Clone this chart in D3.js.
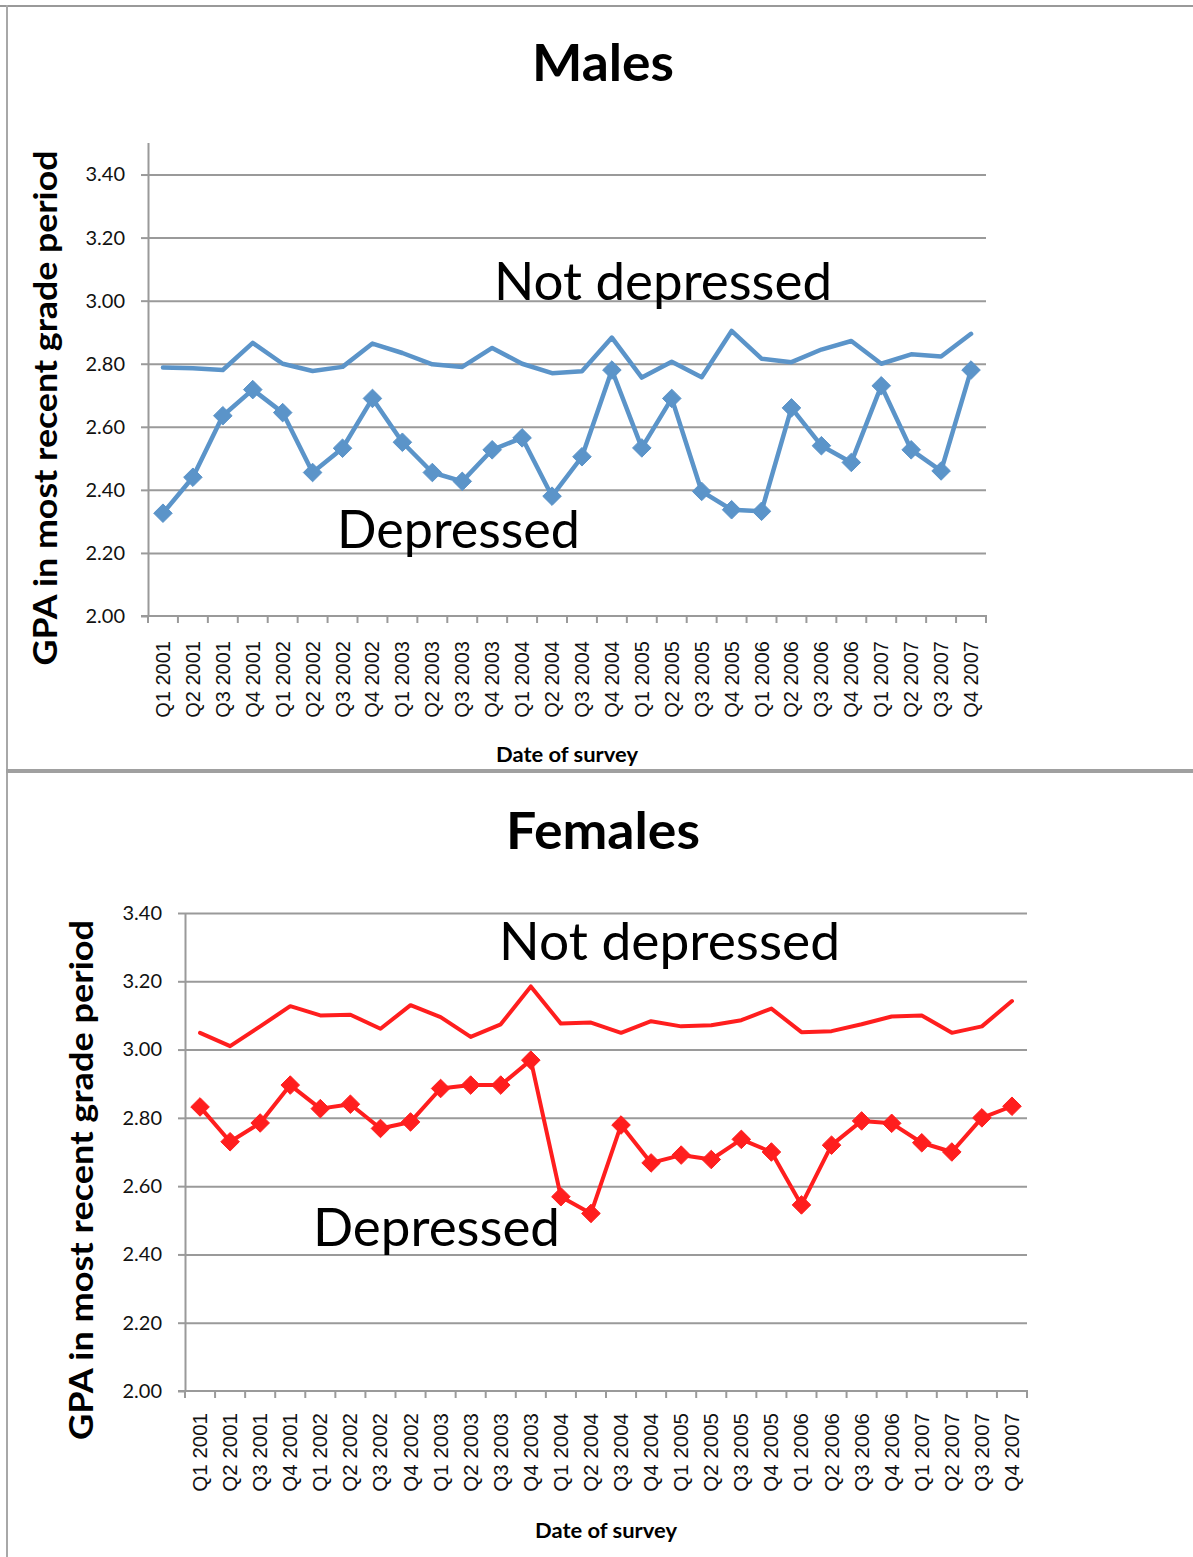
<!DOCTYPE html>
<html>
<head>
<meta charset="utf-8">
<script src="https://cdn.jsdelivr.net/npm/d3@7"></script>
<style>
  html, body { margin: 0; padding: 0; background: #fff; }
  svg { display: block; }
</style>
</head>
<body>
<svg id="chart" width="1193" height="1557"></svg>
<script>
// ---------- DATA ----------
const categories = [
  "Q1 2001","Q2 2001","Q3 2001","Q4 2001",
  "Q1 2002","Q2 2002","Q3 2002","Q4 2002",
  "Q1 2003","Q2 2003","Q3 2003","Q4 2003",
  "Q1 2004","Q2 2004","Q3 2004","Q4 2004",
  "Q1 2005","Q2 2005","Q3 2005","Q4 2005",
  "Q1 2006","Q2 2006","Q3 2006","Q4 2006",
  "Q1 2007","Q2 2007","Q3 2007","Q4 2007"
];
const yTickValues = [2.0, 2.2, 2.4, 2.6, 2.8, 3.0, 3.2, 3.4];

const malesNotDepressed = [
  2.788, 2.786, 2.780, 2.866, 2.800, 2.777, 2.790, 2.864,
  2.834, 2.798, 2.790, 2.850, 2.800, 2.770, 2.776, 2.883,
  2.756, 2.806, 2.757, 2.904, 2.816, 2.805, 2.845, 2.872,
  2.800, 2.830, 2.823, 2.895
];
const malesDepressed = [
  2.326, 2.440, 2.635, 2.718, 2.645, 2.455, 2.532, 2.690,
  2.551, 2.455, 2.427, 2.527, 2.565, 2.380, 2.505, 2.780,
  2.533, 2.690, 2.395, 2.337, 2.332, 2.660, 2.540, 2.487,
  2.730, 2.527, 2.460, 2.780
];
const femalesNotDepressed = [
  3.049, 3.010, 3.068, 3.127, 3.100, 3.102, 3.061, 3.130,
  3.095, 3.037, 3.074, 3.185, 3.076, 3.079, 3.049, 3.083,
  3.068, 3.071, 3.086, 3.120, 3.051, 3.054, 3.074, 3.097,
  3.100, 3.049, 3.068, 3.142
];
const femalesDepressed = [
  2.832, 2.730, 2.785, 2.896, 2.827, 2.840, 2.769, 2.788,
  2.886, 2.896, 2.896, 2.969, 2.569, 2.520, 2.779, 2.668,
  2.691, 2.678, 2.737, 2.700, 2.545, 2.720, 2.791, 2.784,
  2.727, 2.700, 2.800, 2.834
];

// ---------- DRAWING ----------
const svg = d3.select("#chart");
const GRID = "#9a9a9a";
const CALIBRI = "Lato, 'Open Sans', sans-serif";
const ARIAL = "'Liberation Sans', Arial, sans-serif";

// panel frames
svg.append("rect").attr("x", 0).attr("y", 5).attr("width", 1193).attr("height", 2).attr("fill", "#999");
svg.append("rect").attr("x", 6).attr("y", 5).attr("width", 2).attr("height", 1552).attr("fill", "#a8a8a8");
svg.append("rect").attr("x", 6).attr("y", 769).attr("width", 1187).attr("height", 4).attr("fill", "#a0a0a0");

function drawPanel(p) {
  const g = svg.append("g");
  const x = d3.scaleBand().domain(categories).range([p.left, p.right]);
  const y = d3.scaleLinear().domain(p.yDomain).range([p.bottom, p.top]);
  const cx = c => x(c) + x.bandwidth() / 2;

  // gridlines
  g.append("g")
    .attr("transform", `translate(${p.left},0)`)
    .call(d3.axisLeft(y).tickValues(yTickValues.slice(1)).tickSize(-(p.right - p.left)).tickFormat(""))
    .call(s => s.select(".domain").remove())
    .call(s => s.selectAll("line").attr("stroke", GRID).attr("stroke-width", 2));

  // y axis
  const ya = g.append("g")
    .attr("transform", `translate(${p.left},0)`)
    .call(d3.axisLeft(y).tickValues(yTickValues).tickSize(7).tickPadding(16).tickFormat(d3.format(".2f")));
  ya.select(".domain").attr("d", `M0.5,${p.top}V${p.bottom}`).attr("stroke", GRID).attr("stroke-width", 2);
  ya.selectAll(".tick line").attr("stroke", GRID).attr("stroke-width", 2);
  ya.selectAll(".tick text").attr("font-family", CALIBRI).attr("font-size", 20).attr("fill", "#111");

  // x axis baseline + ticks at category boundaries
  const bounds = categories.map(c => x(c)).concat([p.right]);
  g.append("line").attr("x1", p.left - 7).attr("x2", p.right + 1)
    .attr("y1", y(p.yDomain[0])).attr("y2", y(p.yDomain[0]))
    .attr("stroke", GRID).attr("stroke-width", 2);
  g.selectAll(".xt").data(bounds).join("line")
    .attr("x1", d => d).attr("x2", d => d)
    .attr("y1", y(p.yDomain[0])).attr("y2", y(p.yDomain[0]) + 7)
    .attr("stroke", GRID).attr("stroke-width", 2);

  // x tick labels (rotated)
  g.selectAll(".xl").data(categories).join("text")
    .attr("transform", d => `translate(${cx(d) + 7},${p.labelTop}) rotate(-90)`)
    .attr("text-anchor", "end")
    .attr("font-family", ARIAL).attr("font-size", p.xFont).attr("fill", "#111")
    .text(d => d);

  // series
  const line = d3.line().x((d, i) => cx(categories[i])).y(d => y(d));
  g.append("path").datum(p.notDep).attr("d", line)
    .attr("fill", "none").attr("stroke", p.color).attr("stroke-width", p.lw)
    .attr("stroke-linejoin", "round").attr("stroke-linecap", "round");
  g.append("path").datum(p.dep).attr("d", line)
    .attr("fill", "none").attr("stroke", p.color).attr("stroke-width", p.lw)
    .attr("stroke-linejoin", "round").attr("stroke-linecap", "round");
  const diamond = d3.symbol().type(d3.symbolDiamond2).size(p.marker);
  g.selectAll(".mk").data(p.dep).join("path")
    .attr("transform", (d, i) => `translate(${cx(categories[i])},${y(d)})`)
    .attr("d", diamond).attr("fill", p.color)
    .attr("stroke", p.color).attr("stroke-width", 1).attr("stroke-linejoin", "round");

  // titles
  g.append("text").attr("x", p.titleX).attr("y", p.titleY)
    .attr("text-anchor", "middle").attr("font-family", CALIBRI).attr("font-weight", 700)
    .attr("font-size", 52).attr("textLength", p.titleLen).attr("lengthAdjust", "spacingAndGlyphs")
    .attr("fill", "#000").text(p.title);

  g.append("text")
    .attr("transform", `translate(${p.yTitleX},${p.yTitleY}) rotate(-90)`)
    .attr("text-anchor", "middle").attr("font-family", CALIBRI).attr("font-weight", 700)
    .attr("font-size", 33).attr("textLength", p.yTitleLen).attr("lengthAdjust", "spacingAndGlyphs")
    .attr("fill", "#000").text("GPA in most recent grade period");

  g.append("text").attr("x", p.xTitleX).attr("y", p.xTitleY)
    .attr("text-anchor", "middle").attr("font-family", CALIBRI).attr("font-weight", 700)
    .attr("font-size", 20).attr("textLength", 142).attr("lengthAdjust", "spacingAndGlyphs")
    .attr("fill", "#000").text("Date of survey");

  // annotations
  g.append("text").attr("x", p.ndX).attr("y", p.ndY)
    .attr("font-family", CALIBRI).attr("font-size", 52)
    .attr("textLength", p.ndLen).attr("lengthAdjust", "spacingAndGlyphs")
    .attr("fill", "#000").text("Not depressed");
  g.append("text").attr("x", p.dX).attr("y", p.dY)
    .attr("font-family", CALIBRI).attr("font-size", 52)
    .attr("textLength", p.dLen).attr("lengthAdjust", "spacingAndGlyphs")
    .attr("fill", "#000").text("Depressed");
}

drawPanel({
  left: 148, right: 986, top: 143, bottom: 616, yDomain: [2.0, 3.5],
  labelTop: 641, xFont: 20,
  notDep: malesNotDepressed, dep: malesDepressed,
  color: "#5B94C9", lw: 4.5, marker: 220,
  title: "Males", titleX: 603, titleY: 81, titleLen: 142,
  yTitleX: 57, yTitleY: 408, yTitleLen: 515,
  xTitleX: 567, xTitleY: 762,
  ndX: 494, ndY: 300, ndLen: 338,
  dX: 337, dY: 548, dLen: 243
});

drawPanel({
  left: 185, right: 1027, top: 913, bottom: 1391, yDomain: [2.0, 3.4],
  labelTop: 1413, xFont: 20.5,
  notDep: femalesNotDepressed, dep: femalesDepressed,
  color: "#FF1E1E", lw: 4, marker: 220,
  title: "Females", titleX: 603, titleY: 849, titleLen: 194,
  yTitleX: 93, yTitleY: 1180, yTitleLen: 520,
  xTitleX: 606, xTitleY: 1538,
  ndX: 499, ndY: 960, ndLen: 341,
  dX: 313, dY: 1246, dLen: 247
});
</script>
</body>
</html>
